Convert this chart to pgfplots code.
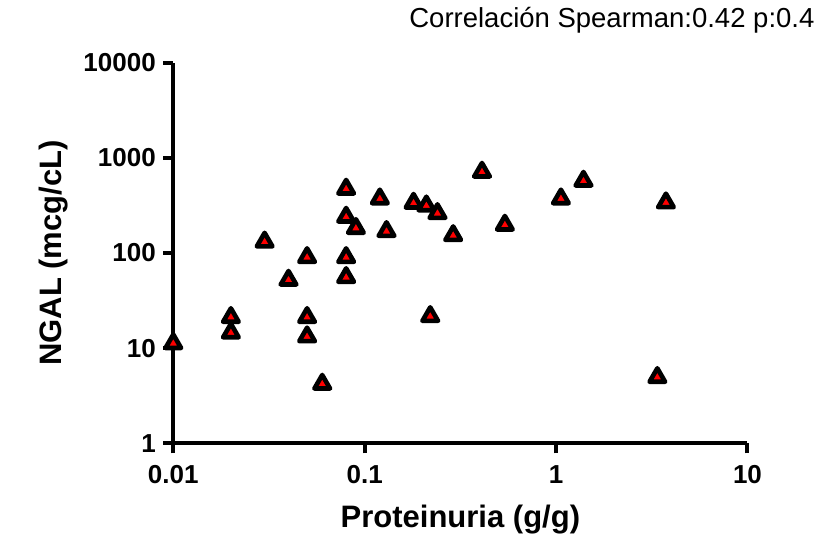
\documentclass[border=0pt]{standalone}
\usepackage{pgfplots}
\pgfplotsset{compat=1.18}
\usepackage{fontspec}
\setmainfont{Liberation Sans}
\begin{document}
\begin{tikzpicture}
\useasboundingbox (-173.3pt,-96.7pt) rectangle (662.7pt,443.3pt);
\begin{axis}[
  at={(0pt,0pt)}, anchor=south west,
  xmode=log, ymode=log,
  scale only axis, width=574.2pt, height=380.6pt,
  xmin=0.01, xmax=10, ymin=1, ymax=10000,
  axis x line=bottom, axis y line=left,
  axis line style={-, line width=4pt, black},
  xtick={0.01,0.1,1,10}, xticklabels={0.01,0.1,1,10},
  ytick={1,10,100,1000,10000}, yticklabels={1,10,100,1000,10000},
  xminorticks=false, yminorticks=false,
  tick align=outside, major tick length=10pt,
  major tick style={black, line width=4pt},
  tick label style={font=\bfseries\fontsize{26}{27}\selectfont},
  xticklabel style={yshift=-9pt},
  yticklabel style={xshift=-4pt},
  xlabel={Proteinuria (g/g)}, ylabel={NGAL (mcg/cL)},
  label style={font=\bfseries\fontsize{31}{32}\selectfont},
  xlabel style={at={(axis description cs:0.5,-0.22254)}, anchor=base},
  ylabel style={at={(axis description cs:-0.19384,0.5)}, anchor=base},
  title={Correlación Spearman:0.42 p:0.4},
  title style={at={(axis description cs:1.12278,1.07541)}, anchor=base east, font=\fontsize{27.5}{28}\selectfont},
  clip=false,
]
\addplot[only marks, mark=triangle*, mark size=9pt,
  mark options={draw=black, fill=red, line width=4.6pt, line join=round}]
  table {
x y
0.01 11.2
0.02 21.1
0.02 14.5
0.03 131
0.04 52
0.05 90
0.05 21.1
0.05 13.2
0.06 4.2
0.08 471
0.08 239
0.08 90
0.08 55.5
0.09 182
0.12 372
0.13 169
0.18 335
0.21 314
0.24 261
0.29 153
0.22 21.6
0.41 710
0.54 197
1.06 372
1.39 571
3.75 338
3.38 4.94
};
\end{axis}
\end{tikzpicture}
\end{document}
